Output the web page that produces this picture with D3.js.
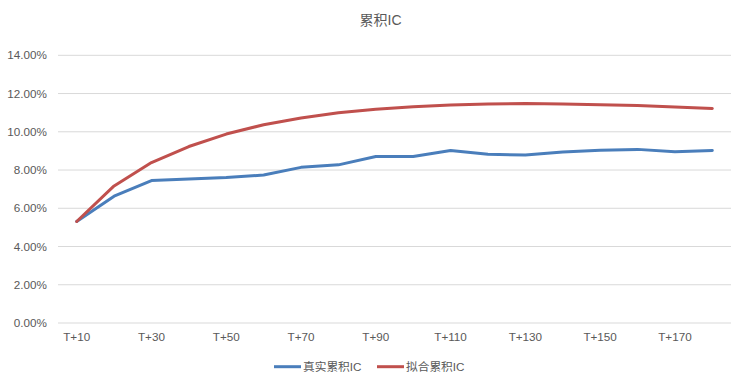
<!DOCTYPE html>
<html>
<head>
<meta charset="utf-8">
<script src="https://cdn.jsdelivr.net/npm/d3@7"></script>
<style>
html,body{margin:0;padding:0;background:#fff;}
svg{display:block;font-family:"Liberation Sans",Arial,"Noto Sans CJK SC",sans-serif;}
</style>
</head>
<body>
<svg id="chart" width="738" height="384"></svg>
<script>
const categories = ["T+10","T+20","T+30","T+40","T+50","T+60","T+70","T+80","T+90","T+100","T+110","T+120","T+130","T+140","T+150","T+160","T+170","T+180"];
const realIC = [5.31,6.63,7.45,7.53,7.61,7.74,8.14,8.27,8.71,8.71,9.02,8.82,8.79,8.94,9.04,9.08,8.95,9.02];
const fitIC  = [5.31,7.17,8.39,9.23,9.88,10.37,10.72,11.0,11.18,11.31,11.4,11.45,11.48,11.45,11.41,11.37,11.3,11.22];
const yTicks = [0,2,4,6,8,10,12,14];
const seriesNames = ["真实累积IC","拟合累积IC"];
const colors = ["#4A7EBB","#C0504D"];
const title = "累积IC";

const svg = d3.select("#chart");
const plotLeft = 58, plotRight = 731, plotTop = 55.3, plotBottom = 323;
const x = d3.scaleBand().domain(categories).range([plotLeft, plotRight]).padding(0);
const y = d3.scaleLinear().domain([0,14]).range([plotBottom, plotTop]);
const textColor = "#595959";

// gridlines
svg.append("g").selectAll("line").data(yTicks).join("line")
  .attr("x1", plotLeft).attr("x2", plotRight)
  .attr("y1", d => y(d)).attr("y2", d => y(d))
  .attr("stroke", "#D9D9D9").attr("stroke-width", 1);

// y labels
svg.append("g").selectAll("text").data(yTicks).join("text")
  .attr("x", 47).attr("y", d => y(d)).attr("dy","0.35em")
  .attr("text-anchor","end").attr("font-size", 11.7).attr("fill", textColor)
  .text(d => d.toFixed(2) + "%");

// x labels
const xLabels = categories.filter((d,i) => i % 2 === 0);
svg.append("g").selectAll("text").data(xLabels).join("text")
  .attr("x", d => x(d) + x.bandwidth()/2).attr("y", 337).attr("dy","0.35em")
  .attr("text-anchor","middle").attr("font-size", 11.7).attr("fill", textColor)
  .text(d => d);

// lines
const line = d3.line().x((d,i) => x(categories[i]) + x.bandwidth()/2).y(d => y(d));
[realIC, fitIC].forEach((s, k) => {
  svg.append("path").datum(s).attr("d", line)
    .attr("fill","none").attr("stroke", colors[k]).attr("stroke-width", 3)
    .attr("stroke-linejoin","round").attr("stroke-linecap","round");
});

// title
svg.append("text").attr("x", 380.5).attr("y", 20.5).attr("dy","0.35em")
  .attr("text-anchor","middle").attr("font-size", 14).attr("fill", textColor)
  .text(title);

// legend
const legendX = [274, 377];
seriesNames.forEach((n, k) => {
  const g = svg.append("g");
  g.append("line").attr("x1", legendX[k]).attr("x2", legendX[k] + 27)
    .attr("y1", 366.7).attr("y2", 366.7)
    .attr("stroke", colors[k]).attr("stroke-width", 3);
  g.append("text").attr("x", legendX[k] + 29).attr("y", 367).attr("dy","0.35em")
    .attr("font-size", 11.7).attr("fill", textColor).text(n);
});
</script>
</body>
</html>
